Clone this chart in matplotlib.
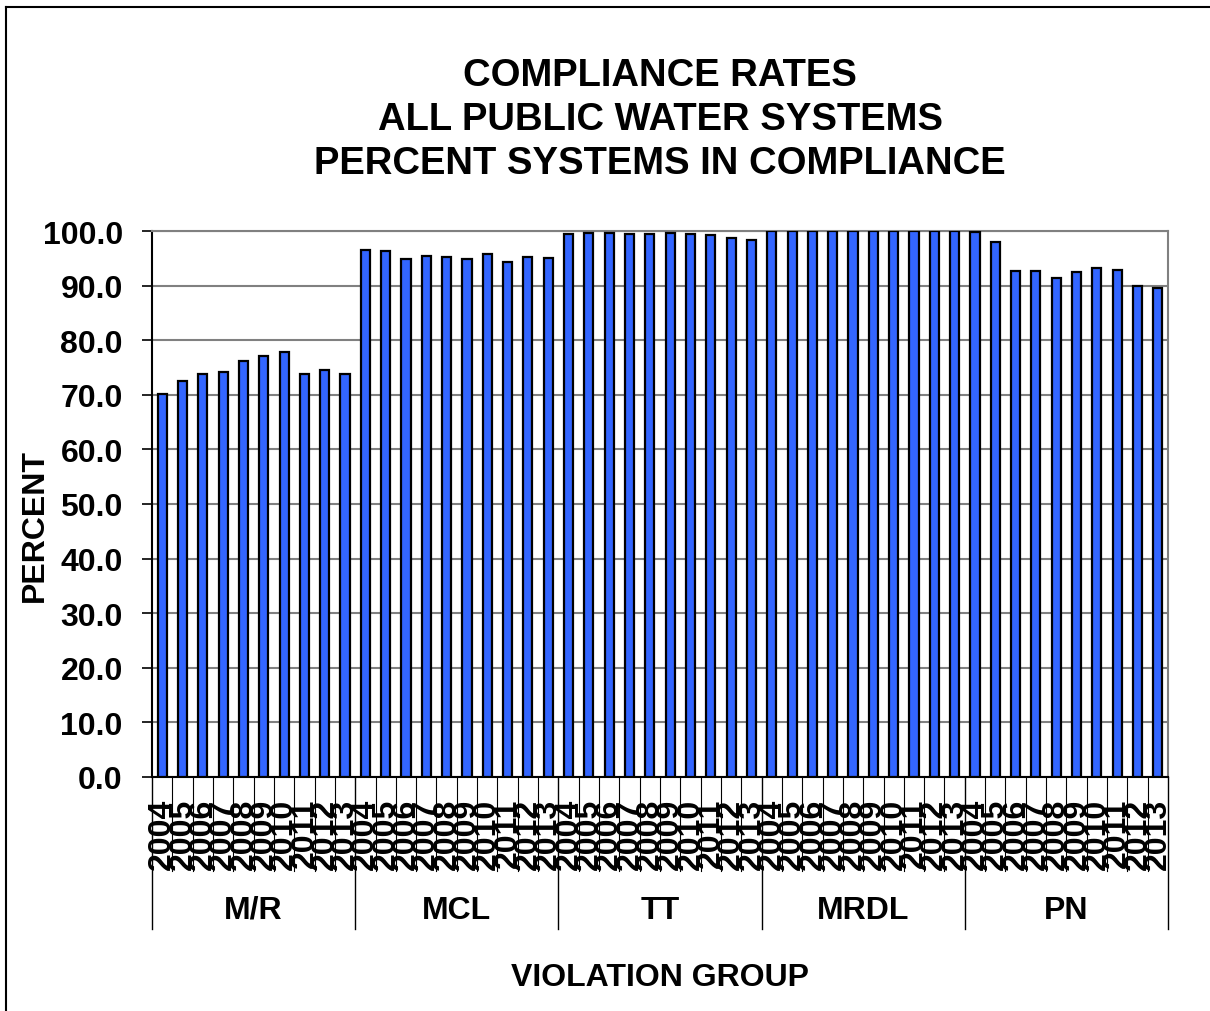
import matplotlib
matplotlib.use("Agg")
import matplotlib.pyplot as plt
from matplotlib.lines import Line2D
import numpy as np

plt.rcParams["font.family"] = ["Liberation Sans", "DejaVu Sans"]
plt.rcParams["font.weight"] = "bold"

groups = ["M/R", "MCL", "TT", "MRDL", "PN"]
years = ["2004", "2005", "2006", "2007", "2008", "2009", "2010", "2011", "2012", "2013"]

mr = [70.1, 72.6, 73.8, 74.1, 76.1, 77.1, 77.9, 73.9, 74.5, 73.9]
mcl = [96.6, 96.3, 94.9, 95.4, 95.2, 94.9, 95.7, 94.4, 95.2, 95.0]
tt = [99.4, 99.6, 99.6, 99.5, 99.5, 99.6, 99.5, 99.2, 98.8, 98.4]
mrdl = [100.0, 100.0, 100.0, 100.0, 100.0, 100.0, 100.0, 100.0, 100.0, 100.0]
pn = [99.9, 98.0, 92.7, 92.7, 91.4, 92.4, 93.2, 92.9, 89.9, 89.5]

values = mr + mcl + tt + mrdl + pn
labels = years * len(groups)
n = len(values)
x = np.arange(n)

fig = plt.figure(figsize=(12.1, 10.12), dpi=100)
ax = fig.add_axes([152 / 1210, 1 - 778 / 1012, (1168 - 152) / 1210, (778 - 232) / 1012])

ax.bar(x, values, width=0.45, color="#3366FF", edgecolor="black", linewidth=1.6, zorder=3)

ax.set_xlim(-0.5, n - 0.5)
ax.set_ylim(0, 100)
ax.set_yticks(np.arange(0, 101, 10))
ax.set_yticklabels([f"{v:.1f}" for v in np.arange(0, 101, 10)], fontsize=23, fontweight="bold")
ax.yaxis.grid(True, color="#808080", linewidth=1.5, zorder=0)
ax.tick_params(axis="y", length=7, width=1.2, direction="out", pad=14)

ax.set_xticks(x)
ax.set_xticklabels(labels, rotation=90, fontsize=23, fontweight="bold")
ax.tick_params(axis="x", length=0, pad=15)

for s in ["top", "right"]:
    ax.spines[s].set_color("#808080")
    ax.spines[s].set_linewidth(1.5)
ax.spines["left"].set_color("black")
ax.spines["left"].set_linewidth(1.5)
ax.spines["bottom"].set_color("black")
ax.spines["bottom"].set_linewidth(1.5)

# separators under the axis
tr = ax.get_xaxis_transform()
for b in np.arange(n + 1) - 0.5:
    k = int(b + 0.5)
    if k % len(years) == 0:
        ax.plot([b, b], [0, -0.278], transform=tr, color="black", lw=1.0, clip_on=False)
    else:
        ax.plot([b, b], [0, -0.172], transform=tr, color="black", lw=0.8, clip_on=False)

for i, g in enumerate(groups):
    cx = i * len(years) + (len(years) - 1) / 2
    ax.text(cx, -0.243, g, transform=tr, ha="center", va="center", fontsize=23, fontweight="bold")

fig.text(660 / 1210, 1 - 978 / 1012, "VIOLATION GROUP", ha="center", va="center",
         fontsize=23, fontweight="bold")
fig.text(35 / 1210, 1 - 525 / 1012, "PERCENT", ha="center", va="center", rotation=90,
         fontsize=23, fontweight="bold")
fig.text(660 / 1210, 1 - 120 / 1012,
         "COMPLIANCE RATES\nALL PUBLIC WATER SYSTEMS\nPERCENT SYSTEMS IN COMPLIANCE",
         ha="center", va="center", fontsize=27.5, fontweight="bold", linespacing=1.3)

# outer frame (top and left edges visible)
fig.add_artist(Line2D([6 / 1210, 6 / 1210], [0, 1 - 8 / 1012], color="black", lw=1.5))
fig.add_artist(Line2D([6 / 1210, 1], [1 - 8 / 1012, 1 - 8 / 1012], color="black", lw=1.5))

fig.savefig("out.png", dpi=100)
